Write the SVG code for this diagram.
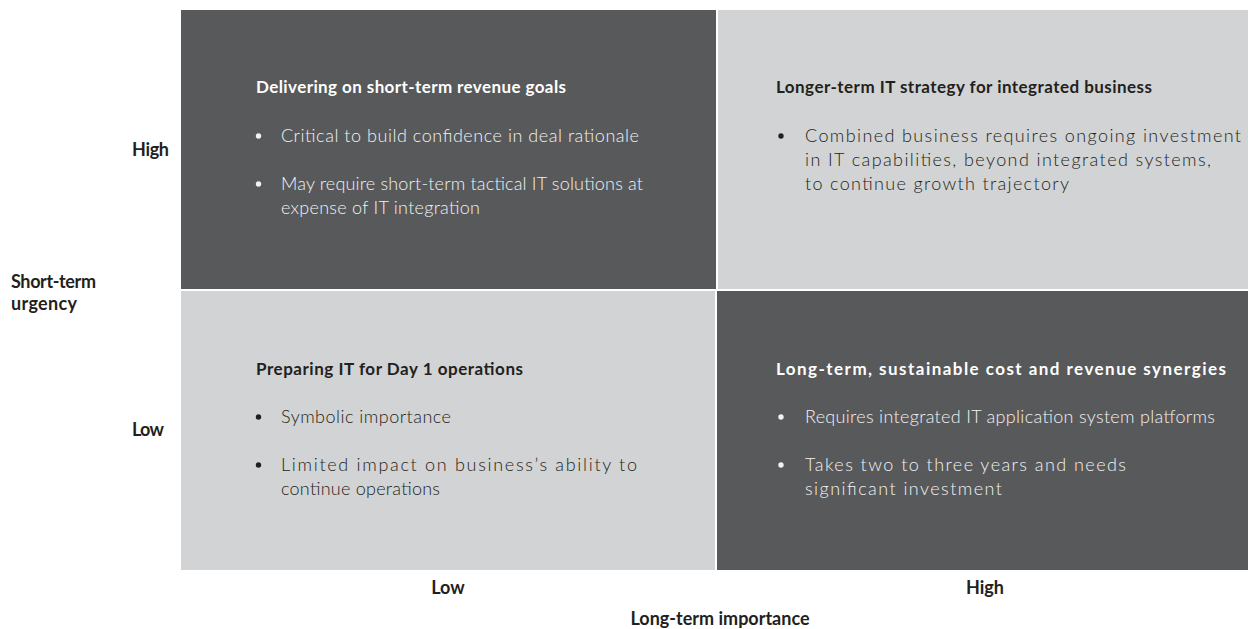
<svg xmlns="http://www.w3.org/2000/svg" width="1248" height="629" viewBox="0 0 1248 629">
<style>
.dark{fill:#58595b}
.light{fill:#d1d3d4}
.t{font-family:Lato,"Liberation Sans",Arial,sans-serif;font-weight:bold;font-size:17px}
.b{font-family:Lato,"Liberation Sans",Arial,sans-serif;font-weight:300;font-size:18px}
.w{fill:#ffffff}
.wb{fill:#f1f1f2}
.k{fill:#231f20}
.ax{font-family:Lato,"Liberation Sans",Arial,sans-serif;font-weight:bold;font-size:18px;fill:#231f20}
</style>
<rect width="1248" height="629" fill="#ffffff"/>
<g id="q-top-left">
<rect class="dark" x="181" y="10" width="535" height="279"/>
<text class="t w" x="256" y="93" textLength="310">Delivering on short-term revenue goals</text>
<circle class="wb" cx="258.5" cy="136" r="2.7"/><text class="b wb" x="281" y="142" textLength="358">Critical to build confidence in deal rationale</text>
<circle class="wb" cx="258.5" cy="184" r="2.7"/><text class="b wb" x="281" y="190" textLength="362">May require short-term tactical IT solutions at</text>
<text class="b wb" x="281" y="214" textLength="199">expense of IT integration</text>
</g>
<g id="q-top-right">
<rect class="light" x="718" y="10" width="530" height="279"/>
<text class="t k" x="776" y="93" textLength="376">Longer-term IT strategy for integrated business</text>
<circle class="k" cx="781" cy="136" r="2.7"/><text class="b k" x="805" y="142" textLength="436">Combined business requires ongoing investment</text>
<text class="b k" x="805" y="166" textLength="406">in IT capabilities, beyond integrated systems,</text>
<text class="b k" x="805" y="190" textLength="264">to continue growth trajectory</text>
</g>
<g id="q-bottom-left">
<rect class="light" x="181" y="291" width="534" height="279"/>
<text class="t k" x="256" y="375" textLength="267">Preparing IT for Day 1 operations</text>
<circle class="k" cx="258.5" cy="417" r="2.7"/><text class="b k" x="281" y="423" textLength="170">Symbolic importance</text>
<circle class="k" cx="258.5" cy="465" r="2.7"/><text class="b k" x="281" y="471" textLength="356">Limited impact on business’s ability to</text>
<text class="b k" x="281" y="495" textLength="159">continue operations</text>
</g>
<g id="q-bottom-right">
<rect class="dark" x="717" y="291" width="531" height="279"/>
<text class="t w" x="776" y="375" textLength="450">Long-term, sustainable cost and revenue synergies</text>
<circle class="wb" cx="781" cy="417" r="2.7"/><text class="b wb" x="805" y="423" textLength="410">Requires integrated IT application system platforms</text>
<circle class="wb" cx="781" cy="465" r="2.7"/><text class="b wb" x="805" y="471" textLength="321">Takes two to three years and needs</text>
<text class="b wb" x="805" y="495" textLength="197">significant investment</text>
</g>
<g id="axis-y">
<text class="ax" x="132" y="156" textLength="37">High</text>
<text class="ax" x="132" y="436" textLength="32">Low</text>
<text class="ax" x="11" y="288" textLength="85">Short-term</text>
<text class="ax" x="11" y="310" textLength="66">urgency</text>
</g>
<g id="axis-x">
<text class="ax" x="448" y="594" text-anchor="middle">Low</text>
<text class="ax" x="985" y="594" text-anchor="middle">High</text>
<text class="ax" x="720" y="625" text-anchor="middle">Long-term importance</text>
</g>
<g id="connectors"></g>
</svg>
